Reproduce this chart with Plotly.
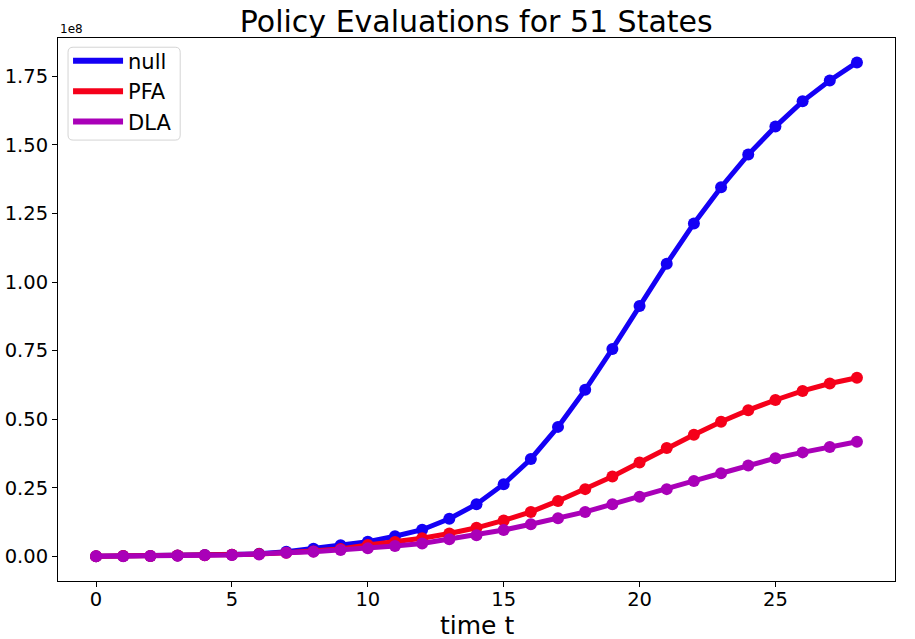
import plotly.graph_objects as go

# time steps and policy values (units of 1e8)
t = list(range(29))
null_vals = [0.000, 0.001, 0.001, 0.003, 0.005, 0.006, 0.009, 0.017, 0.028, 0.040,
             0.053, 0.073, 0.097, 0.137, 0.190, 0.263, 0.355, 0.472, 0.607, 0.756,
             0.913, 1.067, 1.214, 1.346, 1.465, 1.567, 1.659, 1.735, 1.801]
pfa_vals = [0.000, 0.001, 0.001, 0.003, 0.004, 0.006, 0.008, 0.013, 0.018, 0.027,
            0.041, 0.052, 0.066, 0.083, 0.104, 0.131, 0.162, 0.202, 0.245, 0.291,
            0.342, 0.395, 0.443, 0.491, 0.533, 0.570, 0.603, 0.630, 0.651]
dla_vals = [0.000, 0.000, 0.001, 0.002, 0.004, 0.005, 0.007, 0.013, 0.017, 0.023,
            0.029, 0.038, 0.047, 0.062, 0.077, 0.096, 0.117, 0.139, 0.162, 0.190,
            0.217, 0.245, 0.275, 0.303, 0.331, 0.358, 0.379, 0.399, 0.418]

series = [("null", null_vals, "#1400F5"),
          ("PFA", pfa_vals, "#F5001A"),
          ("DLA", dla_vals, "#A900B8")]

font = "DejaVu Sans, Arial, sans-serif"

fig = go.Figure()
for name, vals, col in series:
    fig.add_trace(go.Scatter(
        x=t, y=vals, name=name, mode="lines+markers",
        line=dict(color=col, width=5),
        marker=dict(color=col, size=12),
        showlegend=False,
    ))
# legend shows lines only, like the original
for name, vals, col in series:
    fig.add_trace(go.Scatter(
        x=[None], y=[None], name=name, mode="lines",
        line=dict(color=col, width=6),
    ))

axis_common = dict(
    showline=True, linecolor="black", linewidth=1, mirror=True,
    ticks="outside", ticklen=5, tickcolor="black",
    showgrid=False, zeroline=False, automargin=False,
    tickfont=dict(size=19.5, color="black", family=font),
)

# rounded legend frame (matplotlib style)
x0, x1, y0, y1, r = 0.012, 0.146, 0.812, 0.983, 0.006
ry = r * 837 / 543.5
frame = (f"M{x0 + r},{y1} L{x1 - r},{y1} Q{x1},{y1} {x1},{y1 - ry} "
         f"L{x1},{y0 + ry} Q{x1},{y0} {x1 - r},{y0} L{x0 + r},{y0} "
         f"Q{x0},{y0} {x0},{y0 + ry} L{x0},{y1 - ry} Q{x0},{y1} {x0 + r},{y1} Z")

fig.update_layout(
    width=915, height=639,
    margin=dict(l=58, r=20, t=38, b=58),
    paper_bgcolor="white", plot_bgcolor="white",
    font=dict(family=font, color="black"),
    title=dict(text="Policy Evaluations for 51 States", x=0.5205, xanchor="center",
               y=0.967, yanchor="middle", font=dict(size=30)),
    xaxis=dict(range=[-1.4, 29.4], tickvals=[0, 5, 10, 15, 20, 25],
               ticklabelstandoff=-4, **axis_common),
    yaxis=dict(range=[-0.09, 1.89], tickvals=[0, 0.25, 0.5, 0.75, 1.0, 1.25, 1.5, 1.75],
               tickformat=".2f", **axis_common),
    legend=dict(x=0.012, y=0.995, xanchor="left", yanchor="top",
                bgcolor="rgba(0,0,0,0)", borderwidth=0,
                font=dict(size=21), itemwidth=50),
    shapes=[dict(type="path", path=frame, xref="paper", yref="paper",
                 line=dict(color="#d4d4d4", width=1), fillcolor="white",
                 layer="below")],
    annotations=[
        dict(text="1e8", xref="paper", yref="paper", x=0, y=1.0,
             xanchor="left", yanchor="bottom", showarrow=False,
             font=dict(size=12)),
        dict(text="time t", xref="paper", yref="paper", x=0.5, y=-0.082,
             xanchor="center", yanchor="middle", showarrow=False,
             font=dict(size=25)),
    ],
)

# drop the browser's default body margin so the figure fills the window
fig.write_html("out.html", config={"displayModeBar": False},
               post_script="document.body.style.margin='0';")
